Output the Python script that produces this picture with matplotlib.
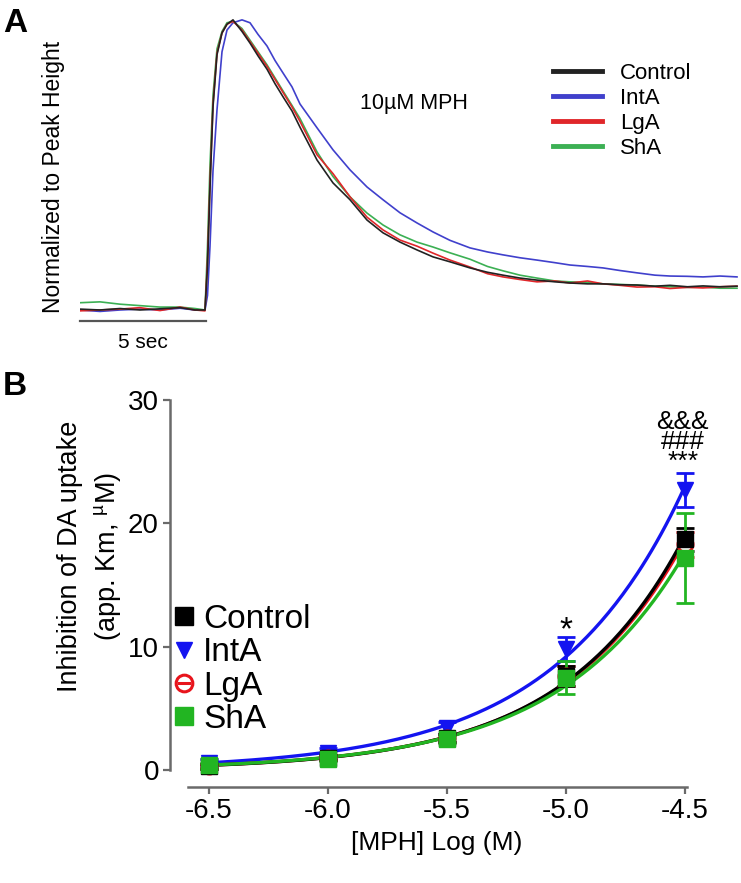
import numpy as np
import matplotlib
matplotlib.use("Agg")
import matplotlib.pyplot as plt
from matplotlib.lines import Line2D

plt.rcParams['font.family'] = ['Liberation Sans', 'DejaVu Sans']
plt.rcParams['mathtext.fontset'] = 'custom'
plt.rcParams['mathtext.rm'] = 'Liberation Sans'

W, H = 741, 883

# ---- panel A: traces, normalized to peak, time in sec ----
t_sec = [0.0, 0.8, 1.6, 2.4, 3.2, 4.0, 4.6, 5.0,
         5.1, 5.2, 5.32, 5.48, 5.68, 5.88, 6.12,
         6.48, 6.8, 7.12, 7.48, 7.8, 8.12, 8.48, 8.8,
         9.48, 10.12, 10.8, 11.48, 12.12, 12.8, 13.48, 14.12, 14.8, 15.6,
         16.3, 16.92, 17.6, 18.28, 19.0, 19.6, 20.3, 20.92, 21.6, 22.28,
         23.0, 23.6, 24.3, 24.92, 25.6, 26.28]
ctrl_trace = [0.003, 0.0, 0.005, 0.0, 0.004, 0.008, 0.0, 0.0,
              0.15, 0.42, 0.7, 0.88, 0.955, 0.985, 1.0,
              0.96, 0.92, 0.876, 0.83, 0.78, 0.735, 0.686, 0.63,
              0.517, 0.438, 0.38, 0.31, 0.266, 0.234, 0.207, 0.183, 0.166, 0.145,
              0.13, 0.12, 0.11, 0.103, 0.097, 0.093, 0.09, 0.09, 0.087, 0.086,
              0.082, 0.085, 0.08, 0.083, 0.08, 0.082]
inta_trace = [0.0, -0.005, 0.0, 0.003, 0.0, 0.006, 0.0, 0.0,
              0.05, 0.22, 0.48, 0.69, 0.89, 0.965, 0.99,
              1.0, 0.99, 0.95, 0.91, 0.86, 0.817, 0.769, 0.71,
              0.628, 0.552, 0.483, 0.424, 0.38, 0.335, 0.30, 0.269, 0.24, 0.214,
              0.20, 0.19, 0.18, 0.172, 0.163, 0.155, 0.15, 0.145, 0.136, 0.128,
              0.12, 0.117, 0.116, 0.114, 0.117, 0.114]
lga_trace = [-0.003, 0.0, 0.003, 0.008, -0.002, 0.01, 0.0, -0.003,
             0.17, 0.44, 0.71, 0.885, 0.955, 0.985, 0.995,
             0.965, 0.925, 0.885, 0.84, 0.795, 0.75, 0.7, 0.65,
             0.535, 0.47, 0.39, 0.32, 0.276, 0.241, 0.22, 0.196, 0.172, 0.148,
             0.125, 0.114, 0.105, 0.097, 0.1, 0.093, 0.1, 0.09, 0.085, 0.079,
             0.08, 0.074, 0.078, 0.076, 0.08, 0.082]
sha_trace = [0.025, 0.028, 0.02, 0.015, 0.01, 0.01, 0.005, 0.0,
             0.22, 0.5, 0.74, 0.9, 0.96, 0.99, 0.995,
             0.97, 0.93, 0.89, 0.845, 0.8, 0.755, 0.705, 0.66,
             0.545, 0.46, 0.39, 0.334, 0.293, 0.259, 0.234, 0.217, 0.197, 0.175,
             0.15, 0.135, 0.12, 0.11, 0.1, 0.097, 0.095, 0.09, 0.088, 0.086,
             0.082, 0.08, 0.078, 0.079, 0.075, 0.075]

# ---- panel B: app. Km vs log [MPH] ----
log_mph = [-6.5, -6.0, -5.5, -5.0, -4.5]
xtick_labels = ['-6.5', '-6.0', '-5.5', '-5.0', '-4.5']
km_ctrl = [0.3, 1.0, 2.6, 7.6, 18.7]
km_inta = [0.6, 1.4, 3.4, 9.8, 22.7]
km_lga = [0.3, 1.0, 2.6, 7.6, 18.3]
km_sha = [0.4, 0.9, 2.5, 7.5, 17.2]
sem_ctrl = [0.2, 0.2, 0.3, 0.8, 0.9]
sem_inta = [0.3, 0.4, 0.5, 1.0, 1.4]
sem_lga = [0.2, 0.2, 0.3, 0.8, 1.0]
sem_sha = [0.2, 0.2, 0.3, 1.35, 3.65]


def fx(px):
    return px / W


def fy(py):
    return 1 - py / H


fig = plt.figure(figsize=(W / 100, H / 100), dpi=100)

# ---------------- A ----------------
axA = fig.add_axes([fx(80), fy(330), (741 - 80) / W, (330 - 10) / H])
axA.set_xlim(0, 26.44)
axA.set_ylim(-0.069, 1.034)
axA.axis('off')

a_series = [('IntA', inta_trace, '#4040cc'),
            ('ShA', sha_trace, '#3cb054'),
            ('LgA', lga_trace, '#e0262a'),
            ('Control', ctrl_trace, '#222222')]
lines = {}
for name, tr, col in a_series:
    lines[name], = axA.plot(t_sec, tr, color=col, lw=1.2)

# 5 sec scale bar
axA.plot([0, 5.04], [-0.038, -0.038], color='#555555', lw=1.6, clip_on=False)
fig.text(fx(143), fy(342), '5 sec', fontsize=15, ha='center', va='center')
fig.text(fx(360), fy(103), '10\u00b5M MPH', fontsize=15.5, ha='left', va='center')
fig.text(fx(54), fy(177), 'Normalized to Peak Height', fontsize=16.5,
         rotation=90, ha='center', va='center')

order = ['Control', 'IntA', 'LgA', 'ShA']
legA = fig.legend([lines[k] for k in order], order, loc='upper left',
                  bbox_to_anchor=(fx(553), fy(63)), frameon=False, fontsize=16,
                  handlelength=2.2, handletextpad=0.8, labelspacing=0.18,
                  borderpad=0, borderaxespad=0)
for ln in legA.get_lines():
    ln.set_linewidth(3.5)

# ---------------- B ----------------
axB = fig.add_axes([fx(170), fy(787), 550 / W, 399 / H])
axB.set_xlim(-6.664, -4.353)
axB.set_ylim(-1.38, 30.98)

xx = np.linspace(-6.5, -4.5, 200)
b_series = [('IntA', km_inta, sem_inta, '#1414f0'),
            ('LgA', km_lga, sem_lga, '#e8141c'),
            ('Control', km_ctrl, sem_ctrl, '#000000'),
            ('ShA', km_sha, sem_sha, '#22b522')]
for name, km, sem, col in b_series:
    x = np.array(log_mph)
    y = np.array(km)
    coef = np.polyfit(x, np.log(y), 1, w=np.sqrt(y))
    axB.plot(xx, np.exp(np.polyval(coef, xx)), color=col, lw=2.4, zorder=2)
    axB.errorbar(x, y, yerr=sem, fmt='none', ecolor=col, elinewidth=2,
                 capsize=6.5, capthick=2, zorder=3)
    if name == 'LgA':
        axB.plot(x, y, ls='none', marker='o', ms=11, mfc='white', mec=col,
                 mew=2, zorder=4)
        axB.plot(x, y, ls='none', marker='_', ms=9, mec=col, mew=2, zorder=4)
    elif name == 'IntA':
        axB.plot(x, y, ls='none', marker='v', ms=12, color=col, zorder=4)
    else:
        axB.plot(x, y, ls='none', marker='s', ms=12, color=col, zorder=4)

# significance marks
axB.text(-5.0, 11.3, '*', fontsize=24, ha='center', va='center')
axB.text(-4.51, 26.6, '&&&\n###\n***', fontsize=19, ha='center', va='center',
         linespacing=0.78)

for s in ['top', 'right']:
    axB.spines[s].set_visible(False)
axB.spines['left'].set_bounds(0, 30)
axB.spines['bottom'].set_bounds(-6.59, -4.49)
for s in ['left', 'bottom']:
    axB.spines[s].set_color('#6a6a6a')
    axB.spines[s].set_linewidth(1.8)
axB.set_xticks(log_mph)
axB.set_xticklabels(xtick_labels)
axB.set_yticks([0, 10, 20, 30])
axB.tick_params(labelsize=20, width=1.6, length=5, color='#6a6a6a', pad=3)

fig.text(fx(437), fy(843), '[MPH] Log (M)', fontsize=19, ha='center', va='center')
fig.text(fx(90), fy(556), 'Inhibition of DA uptake\n(app. Km, $^{\\mathregular{\u00b5}}$M)',
         fontsize=19.5, rotation=90, ha='center', va='center', linespacing=1.42,
         multialignment='center')

hB = [Line2D([], [], ls='none', marker='s', ms=13, color='#000000'),
      Line2D([], [], ls='none', marker='v', ms=11, color='#1414f0'),
      (Line2D([], [], ls='none', marker='o', ms=12, mfc='white', mec='#e8141c', mew=2.2),
       Line2D([], [], ls='none', marker='_', ms=10, mec='#e8141c', mew=2.2)),
      Line2D([], [], ls='none', marker='s', ms=13, color='#22b522')]
fig.legend(hB, order, loc='upper left', bbox_to_anchor=(fx(175), fy(604)),
           frameon=False, fontsize=24, handlelength=0.55, handletextpad=0.3,
           labelspacing=0.07, borderpad=0, borderaxespad=0)

# panel letters
fig.text(fx(3), fy(32), 'A', fontsize=24, fontweight='bold', ha='left', va='baseline')
fig.text(fx(3), fy(395), 'B', fontsize=24, fontweight='bold', ha='left', va='baseline')

fig.savefig('out.png', dpi=100)
